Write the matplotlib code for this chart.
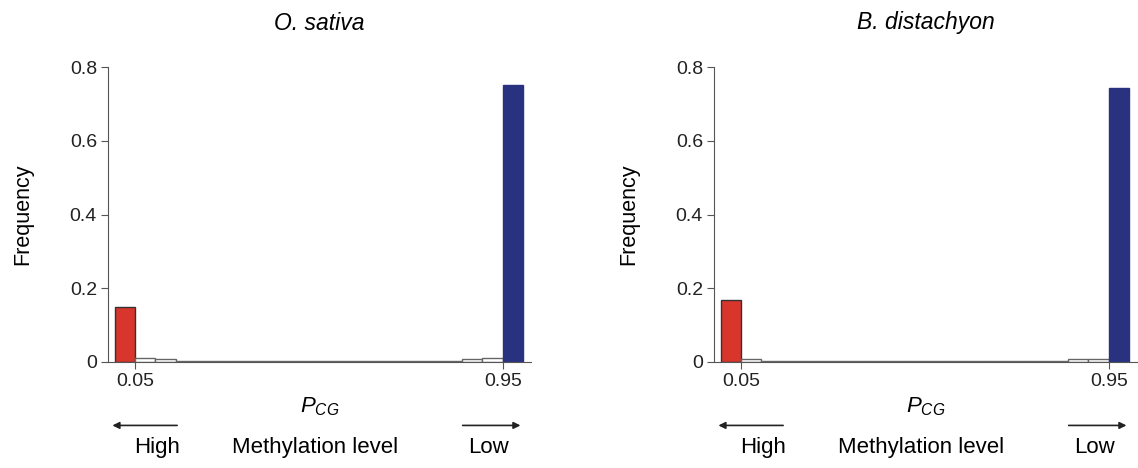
import numpy as np
import matplotlib.pyplot as plt

plt.rcParams['font.family'] = ['Liberation Sans', 'DejaVu Sans']
plt.rcParams['mathtext.fontset'] = 'custom'
plt.rcParams['mathtext.it'] = 'Liberation Sans:italic'

# 20 bins of P_CG, width 0.05
bin_left = np.arange(20) * 0.05
species = ['O. sativa', 'B. distachyon']
freq_sativa = [0.149, 0.010, 0.007, 0.004, 0.004, 0.004, 0.004, 0.004, 0.002, 0.004,
               0.002, 0.002, 0.004, 0.004, 0.004, 0.004, 0.004, 0.008, 0.011, 0.751]
freq_distachyon = [0.168, 0.009, 0.004, 0.004, 0.004, 0.004, 0.004, 0.004, 0.004, 0.002,
                   0.002, 0.004, 0.002, 0.004, 0.004, 0.004, 0.004, 0.007, 0.009, 0.744]
yticks = [0, 0.2, 0.4, 0.6, 0.8]
ytick_labels = ['0', '0.2', '0.4', '0.6', '0.8']

red = '#d8352c'
blue = '#28327f'

fig = plt.figure(figsize=(11.38, 4.68), dpi=100)
axes = [fig.add_axes([108/1138, 1 - 362/468, 423/1138, 295/468]),
        fig.add_axes([714/1138, 1 - 362/468, 423/1138, 295/468])]

for ax, name, freq in zip(axes, species, [freq_sativa, freq_distachyon]):
    colors = ['white'] * 20
    colors[0] = red
    colors[-1] = blue
    edges = ['#666666'] * 20
    edges[0] = '#333333'
    edges[-1] = blue
    ax.bar(bin_left, freq, width=0.05, align='edge', color=colors,
           edgecolor=edges, linewidth=1.0)
    ax.set_xlim(-0.016, 1.019)
    ax.set_ylim(0, 0.8)
    ax.spines['top'].set_visible(False)
    ax.spines['right'].set_visible(False)
    ax.spines['left'].set_color('#555555')
    ax.spines['bottom'].set_color('#555555')
    ax.set_yticks(yticks)
    ax.set_yticklabels(ytick_labels)
    ax.set_xticks([0.05, 0.95])
    ax.set_xticklabels(['0.05', '0.95'])
    ax.tick_params(labelsize=14, color='#555555', length=5, width=0.8,
                   labelcolor='#222222', pad=3)
    ax.set_title(name, fontsize=16.5, style='italic', pad=27)
    ax.set_ylabel('Frequency', fontsize=15.5, labelpad=26)
    ax.set_xlabel('$P_{CG}$', fontsize=16, labelpad=4)

    # direction arrows under the axis
    ax.annotate('', xy=(-0.012, -0.172), xytext=(0.16, -0.172), xycoords='data',
                arrowprops=dict(arrowstyle='-|>', color='#222222', lw=1.2,
                                mutation_scale=10), annotation_clip=False)
    ax.annotate('', xy=(1.0, -0.172), xytext=(0.845, -0.172), xycoords='data',
                arrowprops=dict(arrowstyle='-|>', color='#222222', lw=1.2,
                                mutation_scale=10), annotation_clip=False)
    ax.text(0.105, -0.233, 'High', fontsize=16, ha='center', va='center', clip_on=False)
    ax.text(0.49, -0.233, 'Methylation level', fontsize=16, ha='center', va='center', clip_on=False)
    ax.text(0.915, -0.233, 'Low', fontsize=16, ha='center', va='center', clip_on=False)

fig.savefig('out.png', dpi=100)
